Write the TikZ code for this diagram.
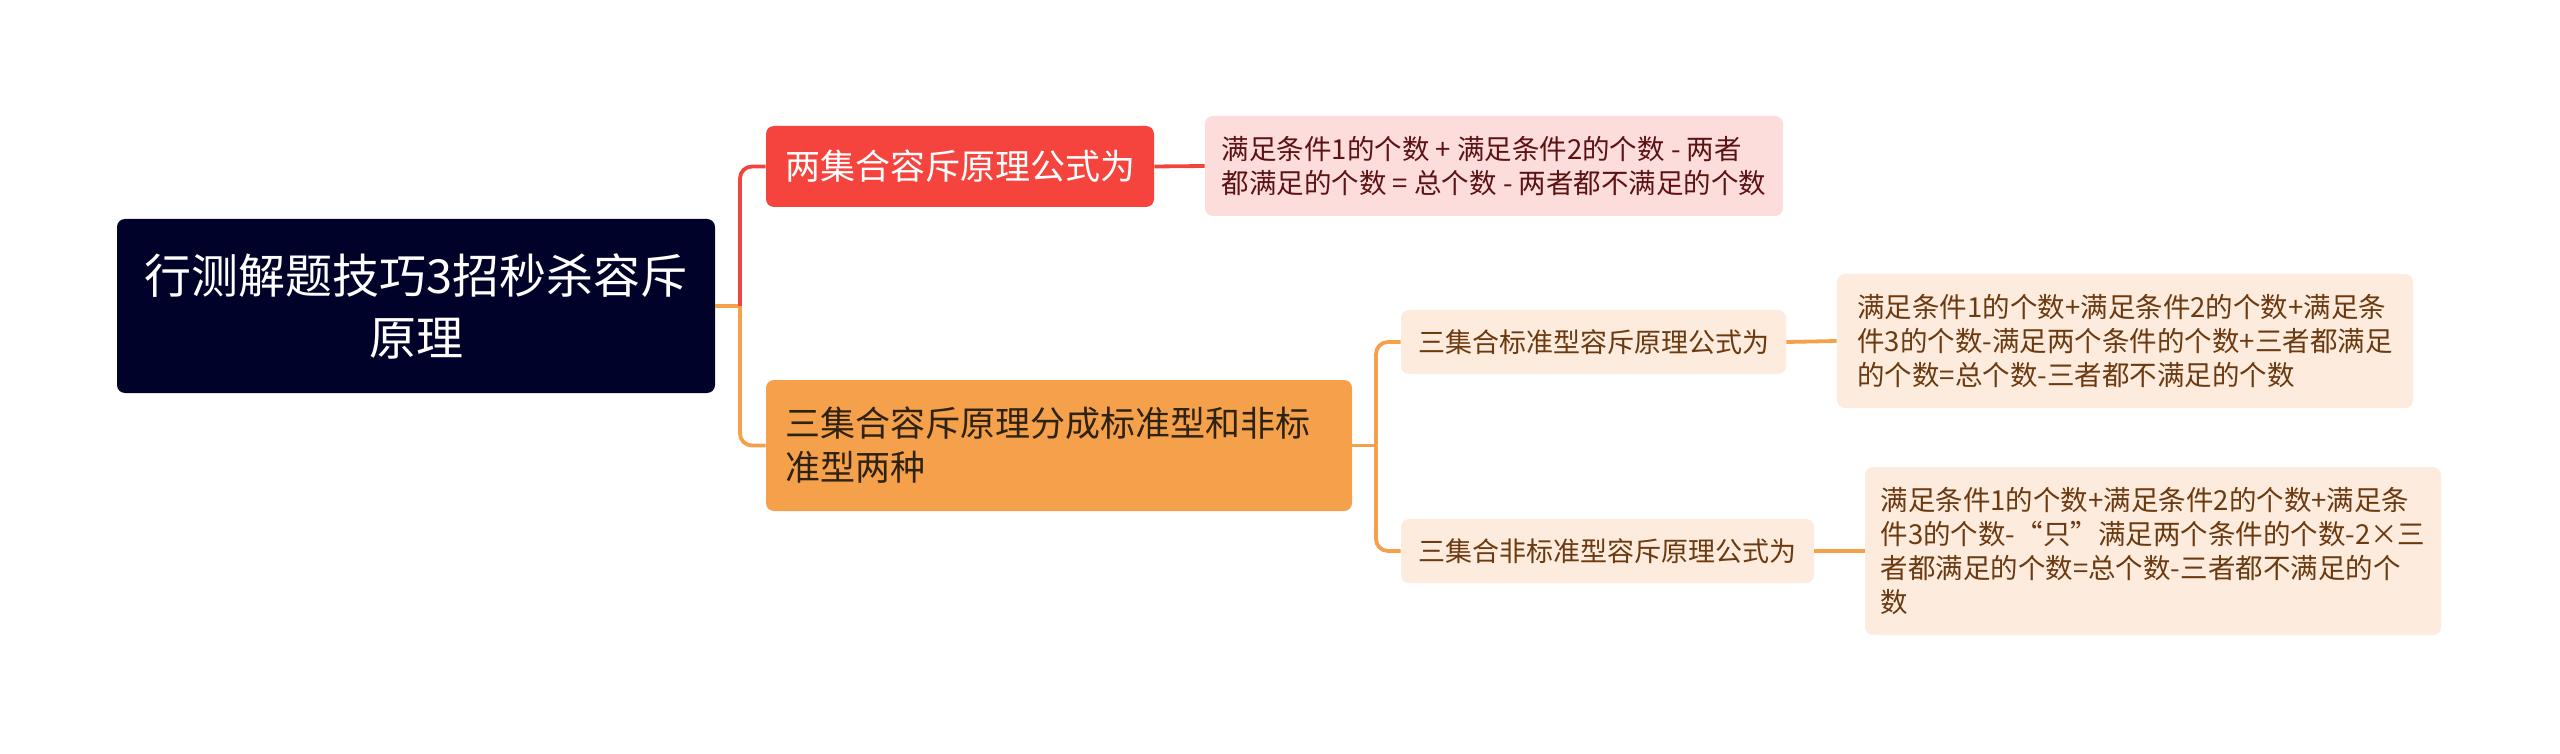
\documentclass[tikz,border=0pt]{standalone}
\usepackage{fontspec}
\setmainfont{Noto Sans CJK SC}
\definecolor{rootfill}{HTML}{000229}
\definecolor{redfill}{HTML}{F5443D}
\definecolor{redline}{HTML}{F0443C}
\definecolor{orfill}{HTML}{F5A04B}
\definecolor{pinkfill}{HTML}{FDDCDC}
\definecolor{pinktext}{HTML}{5C1212}
\definecolor{lightfill}{HTML}{FDEBDD}
\definecolor{browntext}{HTML}{6B3A10}
\definecolor{darktext}{HTML}{2E2210}
\tikzset{
  box/.style={rounded corners=4pt, inner sep=0pt, align=left},
  rootbox/.style={box, fill=rootfill, text=white, align=center,
    minimum width=299pt, minimum height=87pt, font=\fontsize{23.5pt}{31pt}\selectfont},
  lvlA/.style={box, fill=redfill, text=white, minimum width=194pt, minimum height=40.5pt,
    font=\fontsize{17.5pt}{22pt}\selectfont},
  lvlB/.style={box, fill=orfill, text=darktext, minimum width=293pt, minimum height=65.5pt,
    font=\fontsize{17.5pt}{22pt}\selectfont},
  leafA/.style={box, fill=pinkfill, text=pinktext, minimum width=289pt, minimum height=50pt,
    font=\fontsize{13.75pt}{17pt}\selectfont},
  subB/.style={box, fill=lightfill, text=browntext, minimum height=32pt,
    font=\fontsize{13.5pt}{17pt}\selectfont},
  leafB/.style={box, fill=lightfill, text=browntext, minimum width=288pt,
    font=\fontsize{13.75pt}{17pt}\selectfont},
  redconn/.style={draw=redline, line width=1.9pt, rounded corners=6pt},
  orconn/.style={draw=orfill, line width=1.9pt, rounded corners=6pt},
}
\begin{document}
\begin{tikzpicture}[x=0.5pt,y=-0.5pt]
\path[fill=white] (0,0) rectangle (2560,754);
\node[rootbox] (root) at (416,306) {行测解题技巧3招秒杀容斥\\原理};
\node[lvlA] (A) at (960,166.5) {两集合容斥原理公式为};
\node[lvlB] (B) at (1059,445.5) {\begin{minipage}{274pt}三集合容斥原理分成标准型和非标\\准型两种\end{minipage}};
\node[leafA] (Aa) at (1494,166) {满足条件1的个数 + 满足条件2的个数 - 两者\\都满足的个数 = 总个数 - 两者都不满足的个数};
\node[subB, minimum width=192.5pt] (C) at (1593.5,342) {三集合标准型容斥原理公式为};
\node[subB, minimum width=206.5pt] (D) at (1607.5,551) {三集合非标准型容斥原理公式为};
\node[leafB, minimum height=67pt] (Ca) at (2125,341) {满足条件1的个数+满足条件2的个数+满足条\\件3的个数-满足两个条件的个数+三者都满足\\的个数=总个数-三者都不满足的个数};
\node[leafB, minimum height=84pt] (Da) at (2153,551) {满足条件1的个数+满足条件2的个数+满足条\\件3的个数-“只”满足两个条件的个数-2×三\\者都满足的个数=总个数-三者都不满足的个\\数};
\coordinate (j1) at (740,306);
\coordinate (j2) at (1376,445.5);
\draw[orconn] (root.east) -- (j1);
\draw[redconn] (j1) |- (A.west);
\draw[orconn] (j1) |- (B.west);
\draw[redconn] (A.east) -- (Aa.west);
\draw[orconn] (B.east) -- (j2);
\draw[orconn] (j2) |- (C.west);
\draw[orconn] (j2) |- (D.west);
\draw[orconn] (C.east) -- (Ca.west);
\draw[orconn] (D.east) -- (Da.west);
\end{tikzpicture}
\end{document}
